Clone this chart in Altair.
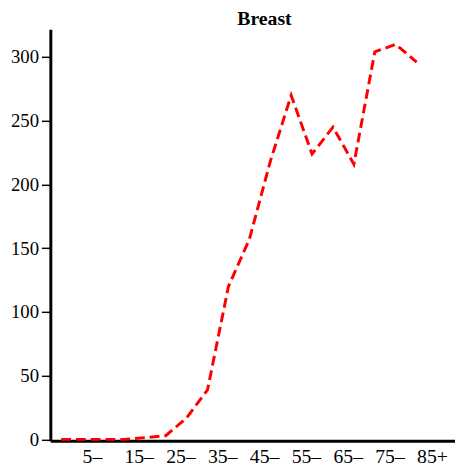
import altair as alt
import pandas as pd

age_groups = ["0–", "5–", "10–", "15–", "20–", "25–", "30–", "35–", "40–",
              "45–", "50–", "55–", "60–", "65–", "70–", "75–", "80–", "85+"]
rates = [0, 0, 0, 0, 1.5, 3, 17, 39, 120, 157, 218, 270, 224, 245, 216, 304, 310, 296]

df = pd.DataFrame({"idx": list(range(len(age_groups))), "group": age_groups, "rate": rates})

label_array = "[" + ",".join("'" + g + "'" for g in age_groups) + "]"
FONT = "Liberation Serif, Times New Roman, serif"

chart = alt.Chart(df).mark_line(
    color="#ff0000", strokeWidth=3, strokeDash=[10, 5], clip=True
).encode(
    x=alt.X("idx:Q",
            scale=alt.Scale(domain=[-0.518, 18.837], nice=False, zero=False),
            axis=alt.Axis(title=None, values=list(range(1, 18, 2)),
                          labelExpr=label_array + "[datum.value]",
                          ticks=False, grid=False, labelAlign="left",
                          labelFont=FONT, labelFontSize=20, labelColor="#000",
                          labelPadding=6, domainColor="#000", domainWidth=3,
                          labelFlush=False, labelOverlap=False)),
    y=alt.Y("rate:Q",
            scale=alt.Scale(domain=[-1.0, 321.8], nice=False, zero=False),
            axis=alt.Axis(title=None, values=[0, 50, 100, 150, 200, 250, 300],
                          grid=False, tickColor="#000", tickWidth=1.5, tickSize=9,
                          labelFont=FONT, labelFontSize=19, labelColor="#000",
                          labelPadding=3, domainColor="#000", domainWidth=3,
                          labelFlush=False)),
).properties(
    width=411,
    height=418,
    title=alt.TitleParams("Breast", font=FONT, fontSize=20, fontWeight="bold",
                          color="#000", anchor="middle", dx=12, offset=0),
    autosize=alt.AutoSizeParams(type="none"),
    padding={"left": 43, "top": 18, "right": 0, "bottom": 24},
).configure(
    font=FONT
).configure_axis(
    labelFont=FONT
).configure_view(stroke=None)

chart.save("out.html", embed_options={"renderer": "svg", "actions": False})
